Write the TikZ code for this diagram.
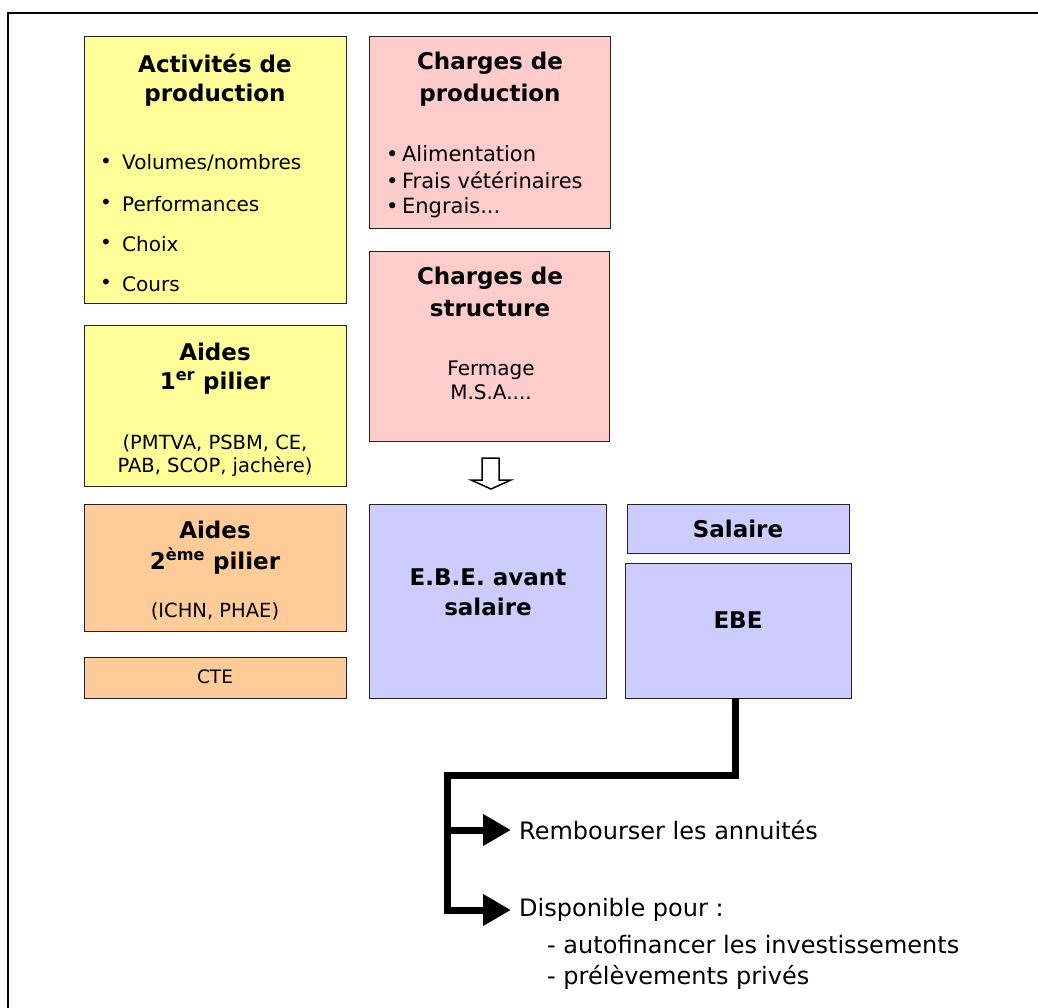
\documentclass[tikz,border=0pt]{standalone}
\usepackage{fontspec}
\setmainfont{DejaVu Sans}
\usetikzlibrary{arrows.meta}
\definecolor{yel}{HTML}{FFFF99}
\definecolor{pnk}{HTML}{FFCCCC}
\definecolor{org}{HTML}{FFCC99}
\definecolor{lav}{HTML}{CCCCFF}
\definecolor{edge}{HTML}{222222}
\tikzset{
  box/.style={draw=edge, line width=1.4pt, anchor=north west, inner sep=0pt, minimum width=#1},
  ttl/.style={font=\fontsize{23}{25}\selectfont\bfseries, inner sep=0pt},
  itm/.style={font=\fontsize{20}{22}\selectfont, inner sep=0pt, anchor=west},
  itmb/.style={font=\fontsize{21}{23}\selectfont, inner sep=0pt, anchor=west},
  sml/.style={font=\fontsize{19.5}{21}\selectfont, inner sep=0pt},
  big/.style={line width=7pt, draw=black},
  bigarrow/.style={big, -{Triangle[length=28pt,width=30pt]}},
  outtxt/.style={font=\fontsize{24}{26}\selectfont, inner sep=0pt, anchor=west}
}
\begin{document}
\begin{tikzpicture}[x=1pt,y=-1pt]
\useasboundingbox (0,0) rectangle (1038,1008);
% frame
\draw[line width=2.2pt] (8,1010) -- (8,13) -- (1040,13);
% boxes
\node[box=262pt, minimum height=267pt, fill=yel] (act) at (84,36) {};
\node[box=241pt, minimum height=192pt, fill=pnk] (cprod) at (369,36) {};
\node[box=240pt, minimum height=190pt, fill=pnk] (cstr) at (369,251) {};
\node[box=262pt, minimum height=161pt, fill=yel] (aid1) at (84,325) {};
\node[box=262pt, minimum height=127pt, fill=org] (aid2) at (84,504) {};
\node[box=262pt, minimum height=41pt, fill=org] (cte) at (84,657) {};
\node[box=237pt, minimum height=194pt, fill=lav] (ebeav) at (369,504) {};
\node[box=222pt, minimum height=49pt, fill=lav] (sal) at (627,504) {};
\node[box=226pt, minimum height=135pt, fill=lav] (ebe) at (625,563) {};
% Activites
\node[ttl] (act1) at (215,63) {Activités de};
\node[ttl] (act2) at (215,95) {production};
\node[itm] (b1) at (100,163) {•};
\node[itm] (a1) at (122,163) {Volumes/nombres};
\node[itm] (b2) at (100,204) {•};
\node[itm] (a2) at (122,204) {Performances};
\node[itm] (b3) at (100,244) {•};
\node[itm] (a3) at (122,244) {Choix};
\node[itm] (b4) at (100,284) {•};
\node[itm] (a4) at (122,284) {Cours};
% Charges de production
\node[ttl] (cp1) at (490,63) {Charges de};
\node[ttl] (cp2) at (490,95) {production};
\node[itmb] (c1) at (386,154) {•\,Alimentation};
\node[itmb] (c2) at (386,180) {•\,Frais vétérinaires};
\node[itmb] (c3) at (386,208) {•\,Engrais...};
% Charges de structure
\node[ttl] (cs1) at (490,278) {Charges de};
\node[ttl] (cs2) at (490,309) {structure};
\node[itm, anchor=center] (s1) at (491,370) {Fermage};
\node[itm, anchor=center] (s2) at (491,392) {M.S.A....};
% Aides 1er
\node[ttl] (p1a) at (215,352) {Aides};
\node[ttl] (p1b) at (215,383) {1\textsuperscript{er} pilier};
\node[sml] (p1c) at (215,443) {(PMTVA, PSBM, CE,};
\node[sml] (p1d) at (215,467) {PAB, SCOP, jachère)};
% Aides 2eme
\node[ttl] (p2a) at (215,530) {Aides};
\node[ttl] (p2b) at (215,561) {2\textsuperscript{ème} pilier};
\node[sml] (p2c) at (215,611) {(ICHN, PHAE)};
\node[sml, font=\fontsize{18.5}{20}\selectfont] (ctet) at (215,677) {CTE};
% EBE
\node[ttl] (e1) at (488,577) {E.B.E. avant};
\node[ttl] (e2) at (488,607) {salaire};
\node[ttl] (salt) at (738,529) {Salaire};
\node[ttl] (ebet) at (738,620) {EBE};
% hollow arrow
\draw[line width=1.5pt, fill=white, line join=miter]
  (482,458) -- (499,458) -- (499,480) -- (511,480) -- (491,489) -- (471,480) -- (482,480) -- cycle;
% outputs
\node[outtxt] (remb) at (519,830) {Rembourser les annuités};
\node[outtxt] (disp) at (519,910) {Disponible pour :};
\node[outtxt] (d1) at (547,945) {- autofinancer les investissements};
\node[outtxt] (d2) at (547,977) {- prélèvements privés};
% connector
\coordinate (j0) at (735,698);
\coordinate (j1) at (447,775);
\coordinate (j2) at (447,830);
\coordinate (j3) at (447,910);
\draw[big, line join=miter] (j0) -- (j0 |- j1) -- (j1) -- (j3);
\draw[bigarrow] ([xshift=-3.5pt]j2) -- ([xshift=-8pt]remb.west);
\draw[bigarrow] ([xshift=-3.5pt]j3) -- ([xshift=-8pt]disp.west);
\end{tikzpicture}
\end{document}
